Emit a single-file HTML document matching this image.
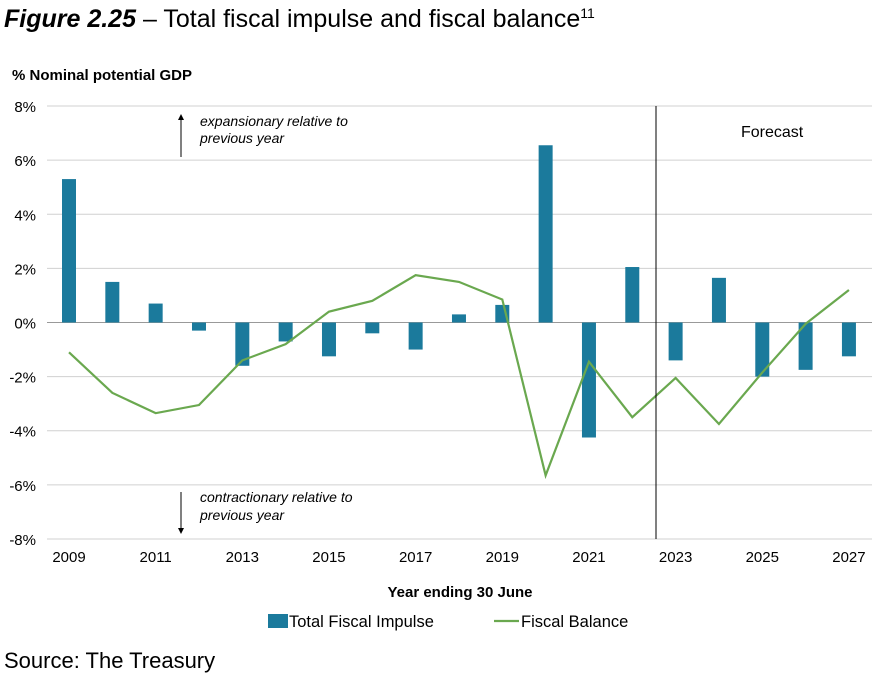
<!DOCTYPE html>
<html><head><meta charset="utf-8">
<style>
body{margin:0;background:#fff;width:872px;height:676px;overflow:hidden;font-family:"Liberation Sans",Arial,sans-serif;}
</style></head>
<body>
<svg id="chart" width="872" height="676" xmlns="http://www.w3.org/2000/svg">
<text x="4" y="27" font-size="25" fill="#000"><tspan font-weight="bold" font-style="italic">Figure 2.25</tspan> – Total fiscal impulse and fiscal balance<tspan font-size="14" dy="-9">11</tspan></text>
<text x="12" y="80" font-size="15" font-weight="bold">% Nominal potential GDP</text>
<g id="grid"></g>
<g id="bars"></g>
<path id="line" fill="none" stroke="#6aa84f" stroke-width="2.2"/>
<g id="labels"></g>
<line x1="656" y1="106" x2="656" y2="539" stroke="#000" stroke-width="1"/>
<text x="741" y="137" font-size="16">Forecast</text>
<g>
<line x1="181" y1="157" x2="181" y2="118" stroke="#000"/><path d="M178,120 L181,114 L184,120 Z" fill="#000"/>
<text x="200" y="126" font-size="14" font-style="italic">expansionary relative to</text>
<text x="200" y="143" font-size="14" font-style="italic">previous year</text></g>
<g>
<line x1="181" y1="492" x2="181" y2="530" stroke="#000"/><path d="M178,528 L181,534 L184,528 Z" fill="#000"/>
<text x="200" y="502" font-size="14" font-style="italic">contractionary relative to</text>
<text x="200" y="520" font-size="14" font-style="italic">previous year</text></g>
<text x="460" y="597" font-size="15" font-weight="bold" text-anchor="middle">Year ending 30 June</text>
<g>
<rect x="268" y="614" width="20" height="14" fill="#1b7a9c"/>
<text x="289" y="627" font-size="16.5">Total Fiscal Impulse</text>
<line x1="494" y1="621" x2="519" y2="621" stroke="#6aa84f" stroke-width="2.2"/>
<text x="521" y="627" font-size="16.5">Fiscal Balance</text></g>
<text x="4" y="668" font-size="22">Source: The Treasury</text>
</svg>
<script>
const years=[2009,2010,2011,2012,2013,2014,2015,2016,2017,2018,2019,2020,2021,2022,2023,2024,2025,2026,2027];
const impulse=[5.3,1.5,0.7,-0.3,-1.6,-0.7,-1.25,-0.4,-1.0,0.3,0.65,6.55,-4.25,2.05,-1.4,1.65,-2.0,-1.75,-1.25];
const balance=[-1.1,-2.6,-3.35,-3.05,-1.4,-0.8,0.4,0.8,1.75,1.5,0.85,-5.65,-1.45,-3.5,-2.05,-3.75,-1.85,-0.05,1.2];
const yTicks=[8,6,4,2,0,-2,-4,-6,-8];
const xLabelYears=[2009,2011,2013,2015,2017,2019,2021,2023,2025,2027];
const NS='http://www.w3.org/2000/svg';
const x=yr=>69+(yr-2009)*43.33;
const y=v=>322.5-v*27.06;
function mk(tag,attrs,parent){const e=document.createElementNS(NS,tag);for(const k in attrs)e.setAttribute(k,attrs[k]);document.getElementById(parent).appendChild(e);return e;}
yTicks.forEach(t=>{
 const g=mk('line',{x1:47,x2:872,y1:y(t),y2:y(t),stroke:t===0?'#999':'#d0d0d0','stroke-width':1},'grid');
 
 
 const l=mk('text',{x:36,y:y(t)+6,'font-size':15,'text-anchor':'end'},'labels');
 l.textContent=t+'%';
 
 
});
xLabelYears.forEach(yr=>{
 const l=mk('text',{x:x(yr),y:562,'font-size':15,'text-anchor':'middle'},'labels');
 l.textContent=yr;
 
 
});
impulse.forEach((v,i)=>{
 const b=mk('rect',{x:x(years[i])-7,y:Math.min(y(v),y(0)),width:14,height:Math.abs(y(v)-y(0)),fill:'#1b7a9c'},'bars');
 
 
});
document.getElementById('line').setAttribute('d',balance.map((v,i)=>(i?'L':'M')+x(years[i])+','+y(v)).join(' '));
</script>
</body></html>
